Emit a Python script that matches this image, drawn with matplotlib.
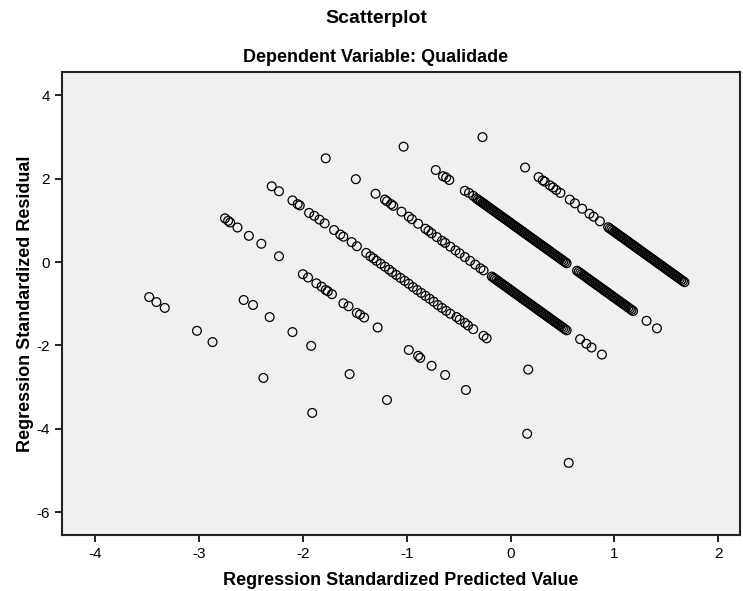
import matplotlib
matplotlib.use("Agg")
import matplotlib.pyplot as plt
import numpy as np

# Each pair of lists is one diagonal band of points
# (standardized predicted value, standardized residual)
pred_band_a = [-0.27, 0.14, 0.27, 0.31, 0.33, 0.38, 0.41, 0.44, 0.48, 0.57, 0.62, 0.69, 0.76, 0.80, 0.86,
               0.940, 0.955, 0.970, 0.985, 1.000, 1.015, 1.030, 1.045, 1.060, 1.075, 1.090, 1.105,
               1.120, 1.135, 1.150, 1.165, 1.180, 1.195, 1.210, 1.225, 1.240, 1.255, 1.270, 1.285,
               1.300, 1.315, 1.330, 1.345, 1.360, 1.375, 1.390, 1.405, 1.420, 1.435, 1.450, 1.465,
               1.480, 1.495, 1.510, 1.525, 1.540, 1.555, 1.570, 1.585, 1.600, 1.615, 1.630, 1.645,
               1.660, 1.675]
resid_band_a = [3.00, 2.27, 2.04, 1.96, 1.93, 1.84, 1.79, 1.73, 1.66, 1.50, 1.41, 1.28, 1.16, 1.09, 0.98,
                0.836, 0.809, 0.782, 0.755, 0.728, 0.701, 0.674, 0.647, 0.620, 0.594, 0.567, 0.540,
                0.513, 0.486, 0.459, 0.432, 0.405, 0.379, 0.352, 0.325, 0.298, 0.271, 0.244, 0.217,
                0.190, 0.164, 0.137, 0.110, 0.083, 0.056, 0.029, 0.002, -0.025, -0.052, -0.078, -0.105,
                -0.132, -0.159, -0.186, -0.213, -0.240, -0.267, -0.293, -0.320, -0.347, -0.374, -0.401, -0.428,
                -0.455, -0.482]

pred_band_b = [-1.03, -0.72, -0.65, -0.62, -0.59, -0.44, -0.40, -0.36,
               -0.330, -0.315, -0.300, -0.285, -0.270, -0.255, -0.240, -0.225, -0.210, -0.195,
               -0.180, -0.165, -0.150, -0.135, -0.120, -0.105, -0.090, -0.075, -0.060, -0.045,
               -0.030, -0.015, 0.000, 0.015, 0.030, 0.045, 0.060, 0.075, 0.090, 0.105, 0.120,
               0.135, 0.150, 0.165, 0.180, 0.195, 0.210, 0.225, 0.240, 0.255, 0.270, 0.285, 0.300,
               0.315, 0.330, 0.345, 0.360, 0.375, 0.390, 0.405, 0.420, 0.435, 0.450, 0.465, 0.480,
               0.495, 0.510, 0.525, 0.540,
               0.640, 0.655, 0.670, 0.685, 0.700, 0.715, 0.730, 0.745, 0.760, 0.775, 0.790, 0.805,
               0.820, 0.835, 0.850, 0.865, 0.880, 0.895, 0.910, 0.925, 0.940, 0.955, 0.970, 0.985,
               1.000, 1.015, 1.030, 1.045, 1.060, 1.075, 1.090, 1.105, 1.120, 1.135, 1.150, 1.165,
               1.180, 1.31, 1.41]
resid_band_b = [2.77, 2.21, 2.06, 2.03, 1.97, 1.71, 1.66, 1.59,
                1.531, 1.504, 1.478, 1.451, 1.424, 1.397, 1.370, 1.343, 1.316, 1.289,
                1.263, 1.236, 1.209, 1.182, 1.155, 1.128, 1.101, 1.074, 1.048, 1.021,
                0.994, 0.967, 0.940, 0.913, 0.886, 0.859, 0.832, 0.806, 0.779, 0.752, 0.725,
                0.698, 0.671, 0.644, 0.617, 0.591, 0.564, 0.537, 0.510, 0.483, 0.456, 0.429, 0.402,
                0.376, 0.349, 0.322, 0.295, 0.268, 0.241, 0.214, 0.187, 0.160, 0.134, 0.107, 0.080,
                0.053, 0.026, -0.001, -0.028,
                -0.207, -0.234, -0.261, -0.288, -0.314, -0.341, -0.368, -0.395, -0.422, -0.449, -0.476, -0.503,
                -0.529, -0.556, -0.583, -0.610, -0.637, -0.664, -0.691, -0.718, -0.744, -0.771, -0.798, -0.825,
                -0.852, -0.879, -0.906, -0.933, -0.960, -0.986, -1.013, -1.040, -1.067, -1.094, -1.121, -1.148,
                -1.175, -1.41, -1.59]

pred_band_c = [-1.78, -1.49, -1.30, -1.21, -1.19, -1.15, -1.13, -1.05, -0.98, -0.95, -0.89, -0.82, -0.79,
               -0.76, -0.71, -0.66, -0.63, -0.58, -0.53, -0.49, -0.44, -0.39, -0.34, -0.29, -0.26,
               -0.180, -0.165, -0.150, -0.135, -0.120, -0.105, -0.090, -0.075, -0.060, -0.045,
               -0.030, -0.015, 0.000, 0.015, 0.030, 0.045, 0.060, 0.075, 0.090, 0.105, 0.120,
               0.135, 0.150, 0.165, 0.180, 0.195, 0.210, 0.225, 0.240, 0.255, 0.270, 0.285, 0.300,
               0.315, 0.330, 0.345, 0.360, 0.375, 0.390, 0.405, 0.420, 0.435, 0.450, 0.465, 0.480,
               0.495, 0.510, 0.525, 0.540,
               0.67, 0.73, 0.78, 0.88]
resid_band_c = [2.49, 1.99, 1.64, 1.50, 1.46, 1.39, 1.35, 1.21, 1.09, 1.03, 0.92, 0.80, 0.75,
                0.69, 0.60, 0.51, 0.46, 0.37, 0.28, 0.21, 0.12, 0.03, -0.06, -0.15, -0.20,
                -0.347, -0.374, -0.401, -0.428, -0.455, -0.482, -0.509, -0.536, -0.562, -0.589,
                -0.616, -0.643, -0.670, -0.697, -0.724, -0.751, -0.778, -0.804, -0.831, -0.858, -0.885,
                -0.912, -0.939, -0.966, -0.993, -1.019, -1.046, -1.073, -1.100, -1.127, -1.154, -1.181, -1.208,
                -1.234, -1.261, -1.288, -1.315, -1.342, -1.369, -1.396, -1.423, -1.450, -1.476, -1.503, -1.530,
                -1.557, -1.584, -1.611, -1.638,
                -1.85, -1.96, -2.05, -2.22]

pred_band_d = [-2.30, -2.23, -2.10, -2.05, -2.03, -1.94, -1.89, -1.84, -1.79, -1.70, -1.64, -1.61,
               -1.53, -1.48, -1.39, -1.35, -1.32, -1.29, -1.25, -1.21, -1.17, -1.14, -1.10, -1.06,
               -1.02, -0.98, -0.94, -0.90, -0.86, -0.82, -0.78, -0.74, -0.70, -0.66, -0.62, -0.58,
               -0.52, -0.49, -0.44, -0.41, -0.36, -0.26, -0.23, 0.17]
resid_band_d = [1.82, 1.70, 1.48, 1.39, 1.36, 1.18, 1.11, 1.02, 0.93, 0.77, 0.66, 0.61,
                0.48, 0.38, 0.22, 0.14, 0.09, 0.03, -0.04, -0.11, -0.18, -0.24, -0.31, -0.38,
                -0.45, -0.52, -0.60, -0.67, -0.74, -0.81, -0.88, -0.95, -1.03, -1.10, -1.17, -1.24,
                -1.32, -1.38, -1.46, -1.52, -1.61, -1.77, -1.83, -2.58]

pred_band_e = [-2.75, -2.72, -2.70, -2.63, -2.52, -2.40, -2.23, -2.00, -1.95, -1.87, -1.82, -1.78,
               -1.76, -1.72, -1.61, -1.56, -1.48, -1.45, -1.41, -1.28, -0.98, -0.89, -0.87, -0.76,
               -0.63, -0.43, 0.16, 0.56]
resid_band_e = [1.05, 0.99, 0.95, 0.83, 0.63, 0.44, 0.14, -0.29, -0.37, -0.51, -0.59, -0.67,
                -0.70, -0.77, -0.99, -1.06, -1.22, -1.26, -1.33, -1.57, -2.11, -2.25, -2.30, -2.49,
                -2.71, -3.07, -4.12, -4.82]

pred_band_f = [-2.57, -2.48, -2.32, -2.10, -1.92, -1.55, -1.19]
resid_band_f = [-0.91, -1.03, -1.32, -1.68, -2.01, -2.69, -3.31]

pred_band_g = [-3.48, -3.41, -3.33, -3.02, -2.87, -2.38, -1.91]
resid_band_g = [-0.84, -0.96, -1.10, -1.65, -1.92, -2.78, -3.62]

x_ticks = [-4, -3, -2, -1, 0, 1, 2]
y_ticks = [-6, -4, -2, 0, 2, 4]

plt.rcParams["font.family"] = ["Liberation Sans", "DejaVu Sans"]
plt.rcParams["axes.unicode_minus"] = False

fig = plt.figure(figsize=(7.43, 5.91), dpi=100)
ax = fig.add_axes([0.0834, 0.0948, 0.9126, 0.7832])
ax.set_facecolor("#f0f0f0")

pred = np.concatenate([pred_band_a, pred_band_b, pred_band_c, pred_band_d,
                       pred_band_e, pred_band_f, pred_band_g])
resid = np.concatenate([resid_band_a, resid_band_b, resid_band_c, resid_band_d,
                        resid_band_e, resid_band_f, resid_band_g])
ax.scatter(pred, resid, s=40, facecolors="none", edgecolors="black", linewidths=0.9, zorder=3)

ax.set_xlim(-4.32, 2.21)
ax.set_ylim(-6.55, 4.56)
ax.set_xticks(x_ticks)
ax.set_yticks(y_ticks)
ax.tick_params(direction="out", length=5, width=1.2, labelsize=11, colors="black")
for s in ax.spines.values():
    s.set_linewidth(1.5)
    s.set_color("#222222")

ax.set_xlabel("Regression Standardized Predicted Value", fontsize=13, fontweight="bold", labelpad=8)
ax.set_ylabel("Regression Standardized Residual", fontsize=13, fontweight="bold", labelpad=2)

fig.text(0.506, 0.968, "Scatterplot", ha="center", va="center", fontsize=14, fontweight="bold")
fig.text(0.506, 0.903, "Dependent Variable: Qualidade", ha="center", va="center",
         fontsize=13, fontweight="bold")

fig.savefig("out.png", dpi=100)
